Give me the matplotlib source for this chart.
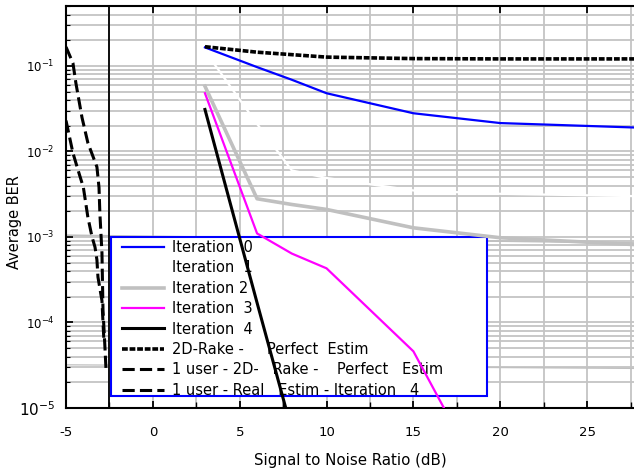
import matplotlib
matplotlib.use("Agg")
import matplotlib.pyplot as plt
from matplotlib.ticker import MultipleLocator, LogLocator, NullFormatter
from matplotlib.patches import Rectangle

plt.rcParams['font.family'] = ['DejaVu Sans']
plt.rcParams['axes.unicode_minus'] = False

# values
snr = [3, 6, 8, 10, 15, 20, 28]
ber_it0 = [0.165, 0.097, 0.069, 0.048, 0.028, 0.0215, 0.019]
ber_it1 = [0.15, 0.021, 0.006, 0.0049, 0.0035, 0.0032, 0.003]
ber_it2 = [0.058, 0.0028, 0.0024, 0.0021, 0.00128, 0.00098, 0.00081]
ber_it3 = [0.048, 0.0011, 0.00064, 0.00043, 4.6e-5, 6e-7, 1e-8]
snr_it4 = [3, 6, 8]
ber_it4 = [0.031, 1.7e-4, 5.5e-6]
snr_rake = [3, 6, 10, 15, 20, 28]
ber_rake = [0.168, 0.145, 0.127, 0.122, 0.121, 0.121]

snr_1u_perf = [-5, -4.6, -4.43, -4.08, -3.74, -3.22, -3.1, -3.05, -2.93, -2.87, -2.76, -2.7]
ber_1u_perf = [0.167, 0.108, 0.063, 0.025, 0.0126, 0.0066, 0.0038, 0.0019, 6.5e-4, 1.4e-4, 5.2e-5, 2.9e-5]
snr_1u_real = [-5, -4.6, -4.3, -4.0, -3.74, -3.5, -3.33, -3.22, -3.16, -2.93, -2.87, -2.82]
ber_1u_real = [0.023, 0.0096, 0.006, 0.0038, 0.0017, 0.001, 7.6e-4, 5.4e-4, 3.4e-4, 1.8e-4, 1e-4, 6.3e-5]

# faint grey traces partly hidden by the legend box
snr_bg = [-5, 28]
ber_bg_a = [1.05e-3, 8.5e-4]
ber_bg_b = [3.2e-5, 2.9e-5]

labels = ["Iteration  0", "Iteration  1", "Iteration 2", "Iteration  3",
          "Iteration  4", "2D-Rake -     Perfect  Estim",
          "1 user - 2D-   Rake -    Perfect   Estim",
          "1 user - Real   Estim - Iteration   4"]

W, H = 634, 475
fig = plt.figure(figsize=(W / 100, H / 100), dpi=100)
ax = fig.add_axes([66 / W, 1 - 408 / H, 1 - 66 / W, (408 - 6) / H])
ax.set_yscale('log')
ax.set_xlim(-5, 27.7)
ax.set_ylim(1e-5, 0.503)

grid_c = '#c4c4c4'
ax.xaxis.set_major_locator(MultipleLocator(5))
ax.xaxis.set_minor_locator(MultipleLocator(2.5))
ax.yaxis.set_major_locator(LogLocator(base=10, numticks=10))
ax.yaxis.set_minor_locator(LogLocator(base=10, subs=range(2, 10), numticks=20))
ax.yaxis.set_minor_formatter(NullFormatter())
ax.grid(True, which='both', color=grid_c, lw=1.3, zorder=0)
ax.set_axisbelow(True)

ax.plot(snr_bg, ber_bg_a, color='#c0c0c0', lw=1.2, zorder=1.5)
ax.plot(snr_bg, ber_bg_b, color='#c0c0c0', lw=0.9, zorder=1.5)

ax.axvline(-2.5, color='black', lw=1.3, zorder=1.6)

l0, = ax.plot(snr, ber_it0, color='#0000ff', lw=1.6, zorder=3)
l1, = ax.plot(snr, ber_it1, color='white', lw=1.6, zorder=3)
l2, = ax.plot(snr, ber_it2, color='#c0c0c0', lw=2.6, zorder=3)
l3, = ax.plot(snr, ber_it3, color='#ff00ff', lw=1.6, zorder=3.2)
l4, = ax.plot(snr_it4, ber_it4, color='black', lw=2.2, zorder=3.3)
l5, = ax.plot(snr_rake, ber_rake, color='black', lw=2.6, ls=(0, (1.6, 0.5)), zorder=3)
l6, = ax.plot(snr_1u_perf, ber_1u_perf, color='black', lw=2.2, ls=(0, (4, 1.7)), zorder=3)
l7, = ax.plot(snr_1u_real, ber_1u_real, color='black', lw=2.2, ls=(0, (4, 1.7)), zorder=3)

# legend box
box = Rectangle((111 / W, 1 - 396 / H), (487 - 111) / W, (396 - 237) / H,
                transform=fig.transFigure, facecolor='white', edgecolor='#0000ff',
                lw=1.5, zorder=2.5)
ax.add_patch(box)
box.set_clip_on(False)
leg = ax.legend([l0, l1, l2, l3, l4, l5, l6, l7], labels, loc='upper left',
                bbox_to_anchor=(122 / W, 1 - 240 / H), bbox_transform=fig.transFigure,
                frameon=False, fontsize=10.5, borderpad=0, borderaxespad=0,
                handlelength=2.9, handletextpad=0.55, labelspacing=0.37)
leg.set_zorder(3.1)

for s in ['left', 'top', 'bottom']:
    ax.spines[s].set_linewidth(1.5)
ax.spines['right'].set_visible(False)

ax.tick_params(which='both', direction='in', top=True, right=False)
ax.tick_params(axis='x', which='major', length=5, width=1.3, pad=13, labelsize=9.5)
ax.tick_params(axis='x', which='minor', length=4, width=1.0, bottom=True, top=False)
ax.tick_params(axis='y', which='major', length=5, width=1.3, pad=8, labelsize=8.5)
ax.tick_params(axis='y', which='minor', length=3, width=0.8)

ax.set_xticks([-5, 0, 5, 10, 15, 20, 25])
ax.set_xlabel("Signal to Noise Ratio (dB)", fontsize=10.8, labelpad=10)
ax.set_ylabel("Average BER", fontsize=10.5)
ax.yaxis.set_label_coords(-0.078, 0.463)

fig.canvas.draw()
for t in ax.get_yticklabels():
    if abs(t.get_position()[1] - 1e-5) < 1e-9:
        t.set_fontsize(11)

fig.savefig("out.png", dpi=100)
